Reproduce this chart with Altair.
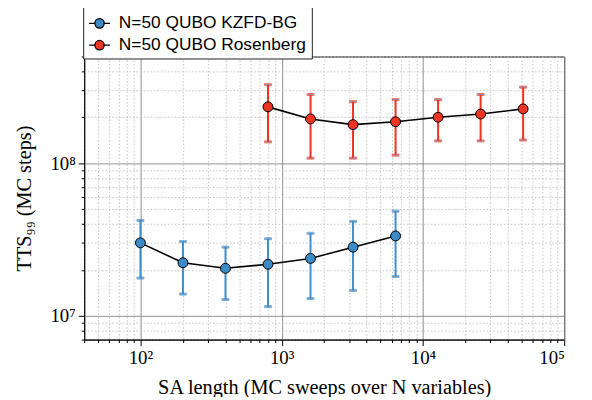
import altair as alt
import pandas as pd

series_names = ["N=50 QUBO KZFD-BG", "N=50 QUBO Rosenberg"]
series_colors = ["#3d8bc6", "#ec3623"]
bar_colors = ["#3d8fcc", "#f2301c"]

blue_x = [100, 200, 400, 800, 1600, 3200, 6400]
blue_y = [3.01e7, 2.23e7, 2.05e7, 2.18e7, 2.38e7, 2.82e7, 3.34e7]
blue_hi = [4.22e7, 3.07e7, 2.82e7, 3.20e7, 3.48e7, 4.16e7, 4.85e7]
blue_lo = [1.77e7, 1.39e7, 1.28e7, 1.15e7, 1.30e7, 1.47e7, 1.81e7]

red_x = [800, 1600, 3200, 6400, 12800, 25600, 51200]
red_y = [2.34e8, 1.95e8, 1.79e8, 1.87e8, 2.00e8, 2.10e8, 2.27e8]
red_hi = [3.27e8, 2.82e8, 2.53e8, 2.61e8, 2.61e8, 2.82e8, 3.15e8]
red_lo = [1.38e8, 1.08e8, 1.08e8, 1.13e8, 1.40e8, 1.40e8, 1.42e8]

rows = []
for name, xs, ys, los, his in [
    (series_names[0], blue_x, blue_y, blue_lo, blue_hi),
    (series_names[1], red_x, red_y, red_lo, red_hi),
]:
    for x, y, lo, hi in zip(xs, ys, los, his):
        rows.append({"series": name, "x": x, "y": y, "lo": lo, "hi": hi})
df = pd.DataFrame(rows)

x_ticks = [k * 10 ** e for e in range(1, 5) for k in range(1, 10) if 40 <= k * 10 ** e <= 1e5] + [100000]
y_ticks = [k * 10 ** e for e in range(6, 9) for k in range(1, 10) if 7e6 <= k * 10 ** e <= 5e8]

is_decade = "abs(log(datum.value)/LN10 - round(log(datum.value)/LN10)) < 1e-6"
expo = "round(log(datum.value)/LN10)"
label_expr = (
    f"{is_decade} ? ({expo} == 2 ? '10²' : {expo} == 3 ? '10³' : {expo} == 4 ? '10⁴' : "
    f"{expo} == 5 ? '10⁵' : {expo} == 7 ? '10⁷' : {expo} == 8 ? '10⁸' : '') : ''"
)

def make_axis(title, values, title_pad):
    return alt.Axis(
        title=title,
        values=values,
        labelExpr=label_expr,
        grid=True,
        gridColor={"condition": {"test": is_decade, "value": "#8e8e8e"}, "value": "#c4c4c4"},
        gridDash={"condition": {"test": is_decade, "value": []}, "value": [1.5, 2]},
        gridWidth=1,
        tickSize={"condition": {"test": is_decade, "value": 6}, "value": 3},
        titlePadding=title_pad,
    )

xscale = alt.Scale(type="log", domain=[40, 100000], nice=False)
yscale = alt.Scale(type="log", domain=[7e6, 5e8], nice=False)

base = alt.Chart(df)
x_enc = alt.X("x:Q", scale=xscale, axis=make_axis("SA length (MC sweeps over N variables)", x_ticks, 10))
y_enc = alt.Y("y:Q", scale=yscale, axis=make_axis("TTS₉₉ (MC steps)", y_ticks, 16))
# reversed domain order keeps this scale's legend separate from the marker legend
bar_scale = alt.Scale(domain=series_names[::-1], range=bar_colors[::-1])

rules = base.mark_rule(strokeWidth=2).encode(
    x=x_enc, y=alt.Y("lo:Q", scale=yscale), y2="hi:Q",
    stroke=alt.Stroke("series:N", scale=bar_scale, legend=None),
)
cap_lo = base.mark_tick(orient="horizontal", thickness=2, size=7).encode(
    x=x_enc, y=alt.Y("lo:Q", scale=yscale),
    stroke=alt.Stroke("series:N", scale=bar_scale, legend=None),
)
cap_hi = base.mark_tick(orient="horizontal", thickness=2, size=7).encode(
    x=x_enc, y=alt.Y("hi:Q", scale=yscale),
    stroke=alt.Stroke("series:N", scale=bar_scale, legend=None),
)
line = base.mark_line(color="black", strokeWidth=1.6).encode(
    x=x_enc, y=y_enc, detail="series:N",
)
legend_path = "M-1,0L-0.45,0M0.45,0L1,0M0.45,0A0.45,0.45,0,1,1,-0.45,0A0.45,0.45,0,1,1,0.45,0Z"
points = base.mark_point(shape="circle", filled=True, size=100, stroke="black", strokeWidth=1, opacity=1).encode(
    x=x_enc, y=y_enc,
    fill=alt.Fill(
        "series:N",
        scale=alt.Scale(domain=series_names, range=series_colors),
        legend=alt.Legend(
            title=None, orient="none", legendX=-1, legendY=-50,
            strokeColor="#222222", fillColor="white", padding=5, cornerRadius=0,
            labelFont="Liberation Sans", labelFontSize=17.5, labelColor="black", labelOffset=8,
            symbolType=legend_path, symbolSize=441, symbolStrokeColor="black",
            symbolStrokeWidth=1.3, rowPadding=2, labelLimit=400,
        ),
    ),
)

chart = (
    alt.layer(rules, cap_lo, cap_hi, line, points)
    .properties(
        width=485, height=286,
        autosize=alt.AutoSizeParams(type="none"),
        padding={"left": 77, "top": 47, "right": 20, "bottom": 56},
    )
    .configure_view(stroke="black", strokeWidth=1)
    .configure_axis(
        domainColor="black", tickColor="black", labelColor="black", titleColor="black",
        labelFont="Liberation Serif", labelFontSize=19, titleFont="Liberation Serif",
        titleFontSize=20.5, titleFontWeight="normal", labelPadding=3,
    )
)

chart.save("out.html", embed_options={"renderer": "svg", "actions": False})
